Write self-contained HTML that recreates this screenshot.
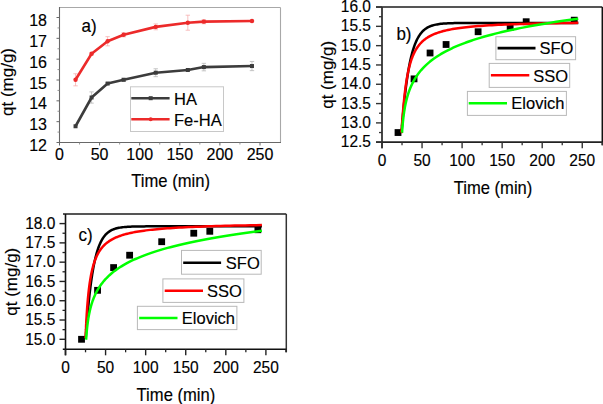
<!DOCTYPE html>
<html><head><meta charset="utf-8"><style>
html,body{margin:0;padding:0;background:#fff;}
body{width:603px;height:404px;overflow:hidden;}
svg{display:block;}
text{font-family:"Liberation Sans",sans-serif;stroke:#000;stroke-width:0.15px;}
</style></head><body>
<svg width="603" height="404" viewBox="0 0 603 404">
<rect x="0" y="0" width="603" height="404" fill="#fff"/>
<line x1="59.50" y1="7.50" x2="280.50" y2="7.50" stroke="#a8a8a8" stroke-width="1.1"/>
<line x1="280.50" y1="7.50" x2="280.50" y2="142.50" stroke="#a8a8a8" stroke-width="1.1"/>
<line x1="59.50" y1="7.00" x2="59.50" y2="143.00" stroke="#686868" stroke-width="1.1"/>
<line x1="59.00" y1="142.50" x2="281.00" y2="142.50" stroke="#686868" stroke-width="1.1"/>
<line x1="56.50" y1="142.50" x2="59.50" y2="142.50" stroke="#686868" stroke-width="1"/>
<line x1="57.50" y1="132.08" x2="59.50" y2="132.08" stroke="#8a8a8a" stroke-width="0.9"/>
<text x="47.00" y="151.00" font-size="16" text-anchor="end" fill="#000" >12</text>
<line x1="56.50" y1="121.67" x2="59.50" y2="121.67" stroke="#686868" stroke-width="1"/>
<line x1="57.50" y1="111.25" x2="59.50" y2="111.25" stroke="#8a8a8a" stroke-width="0.9"/>
<text x="47.00" y="130.17" font-size="16" text-anchor="end" fill="#000" >13</text>
<line x1="56.50" y1="100.83" x2="59.50" y2="100.83" stroke="#686868" stroke-width="1"/>
<line x1="57.50" y1="90.42" x2="59.50" y2="90.42" stroke="#8a8a8a" stroke-width="0.9"/>
<text x="47.00" y="109.33" font-size="16" text-anchor="end" fill="#000" >14</text>
<line x1="56.50" y1="80.00" x2="59.50" y2="80.00" stroke="#686868" stroke-width="1"/>
<line x1="57.50" y1="69.58" x2="59.50" y2="69.58" stroke="#8a8a8a" stroke-width="0.9"/>
<text x="47.00" y="88.50" font-size="16" text-anchor="end" fill="#000" >15</text>
<line x1="56.50" y1="59.17" x2="59.50" y2="59.17" stroke="#686868" stroke-width="1"/>
<line x1="57.50" y1="48.75" x2="59.50" y2="48.75" stroke="#8a8a8a" stroke-width="0.9"/>
<text x="47.00" y="67.67" font-size="16" text-anchor="end" fill="#000" >16</text>
<line x1="56.50" y1="38.34" x2="59.50" y2="38.34" stroke="#686868" stroke-width="1"/>
<line x1="57.50" y1="27.92" x2="59.50" y2="27.92" stroke="#8a8a8a" stroke-width="0.9"/>
<text x="47.00" y="46.84" font-size="16" text-anchor="end" fill="#000" >17</text>
<line x1="56.50" y1="17.50" x2="59.50" y2="17.50" stroke="#686868" stroke-width="1"/>
<text x="47.00" y="26.00" font-size="16" text-anchor="end" fill="#000" >18</text>
<line x1="59.50" y1="142.50" x2="59.50" y2="145.50" stroke="#686868" stroke-width="1"/>
<line x1="79.55" y1="142.50" x2="79.55" y2="144.50" stroke="#8a8a8a" stroke-width="0.9"/>
<text x="59.50" y="160.20" font-size="16" text-anchor="middle" fill="#000" >0</text>
<line x1="99.60" y1="142.50" x2="99.60" y2="145.50" stroke="#686868" stroke-width="1"/>
<line x1="119.65" y1="142.50" x2="119.65" y2="144.50" stroke="#8a8a8a" stroke-width="0.9"/>
<text x="99.60" y="160.20" font-size="16" text-anchor="middle" fill="#000" >50</text>
<line x1="139.70" y1="142.50" x2="139.70" y2="145.50" stroke="#686868" stroke-width="1"/>
<line x1="159.75" y1="142.50" x2="159.75" y2="144.50" stroke="#8a8a8a" stroke-width="0.9"/>
<text x="139.70" y="160.20" font-size="16" text-anchor="middle" fill="#000" >100</text>
<line x1="179.80" y1="142.50" x2="179.80" y2="145.50" stroke="#686868" stroke-width="1"/>
<line x1="199.85" y1="142.50" x2="199.85" y2="144.50" stroke="#8a8a8a" stroke-width="0.9"/>
<text x="179.80" y="160.20" font-size="16" text-anchor="middle" fill="#000" >150</text>
<line x1="219.90" y1="142.50" x2="219.90" y2="145.50" stroke="#686868" stroke-width="1"/>
<line x1="239.95" y1="142.50" x2="239.95" y2="144.50" stroke="#8a8a8a" stroke-width="0.9"/>
<text x="219.90" y="160.20" font-size="16" text-anchor="middle" fill="#000" >200</text>
<line x1="260.00" y1="142.50" x2="260.00" y2="145.50" stroke="#686868" stroke-width="1"/>
<text x="260.00" y="160.20" font-size="16" text-anchor="middle" fill="#000" >250</text>
<line x1="91.58" y1="91.88" x2="91.58" y2="103.13" stroke="#b8b8b8" stroke-width="0.8"/>
<line x1="89.38" y1="91.88" x2="93.78" y2="91.88" stroke="#b8b8b8" stroke-width="0.8"/>
<line x1="89.38" y1="103.13" x2="93.78" y2="103.13" stroke="#b8b8b8" stroke-width="0.8"/>
<line x1="107.62" y1="82.50" x2="107.62" y2="84.58" stroke="#b8b8b8" stroke-width="0.8"/>
<line x1="105.42" y1="82.50" x2="109.82" y2="82.50" stroke="#b8b8b8" stroke-width="0.8"/>
<line x1="105.42" y1="84.58" x2="109.82" y2="84.58" stroke="#b8b8b8" stroke-width="0.8"/>
<line x1="123.66" y1="78.33" x2="123.66" y2="81.25" stroke="#b8b8b8" stroke-width="0.8"/>
<line x1="121.46" y1="78.33" x2="125.86" y2="78.33" stroke="#b8b8b8" stroke-width="0.8"/>
<line x1="121.46" y1="81.25" x2="125.86" y2="81.25" stroke="#b8b8b8" stroke-width="0.8"/>
<line x1="155.74" y1="68.75" x2="155.74" y2="76.67" stroke="#b8b8b8" stroke-width="0.8"/>
<line x1="153.54" y1="68.75" x2="157.94" y2="68.75" stroke="#b8b8b8" stroke-width="0.8"/>
<line x1="153.54" y1="76.67" x2="157.94" y2="76.67" stroke="#b8b8b8" stroke-width="0.8"/>
<line x1="187.82" y1="68.96" x2="187.82" y2="71.04" stroke="#b8b8b8" stroke-width="0.8"/>
<line x1="185.62" y1="68.96" x2="190.02" y2="68.96" stroke="#b8b8b8" stroke-width="0.8"/>
<line x1="185.62" y1="71.04" x2="190.02" y2="71.04" stroke="#b8b8b8" stroke-width="0.8"/>
<line x1="203.86" y1="63.33" x2="203.86" y2="70.83" stroke="#b8b8b8" stroke-width="0.8"/>
<line x1="201.66" y1="63.33" x2="206.06" y2="63.33" stroke="#b8b8b8" stroke-width="0.8"/>
<line x1="201.66" y1="70.83" x2="206.06" y2="70.83" stroke="#b8b8b8" stroke-width="0.8"/>
<line x1="251.98" y1="61.46" x2="251.98" y2="70.63" stroke="#b8b8b8" stroke-width="0.8"/>
<line x1="249.78" y1="61.46" x2="254.18" y2="61.46" stroke="#b8b8b8" stroke-width="0.8"/>
<line x1="249.78" y1="70.63" x2="254.18" y2="70.63" stroke="#b8b8b8" stroke-width="0.8"/>
<line x1="75.54" y1="73.75" x2="75.54" y2="85.83" stroke="#f6b0b0" stroke-width="0.8"/>
<line x1="73.34" y1="73.75" x2="77.74" y2="73.75" stroke="#f6b0b0" stroke-width="0.8"/>
<line x1="73.34" y1="85.83" x2="77.74" y2="85.83" stroke="#f6b0b0" stroke-width="0.8"/>
<line x1="91.58" y1="52.71" x2="91.58" y2="54.79" stroke="#f6b0b0" stroke-width="0.8"/>
<line x1="89.38" y1="52.71" x2="93.78" y2="52.71" stroke="#f6b0b0" stroke-width="0.8"/>
<line x1="89.38" y1="54.79" x2="93.78" y2="54.79" stroke="#f6b0b0" stroke-width="0.8"/>
<line x1="107.62" y1="36.67" x2="107.62" y2="45.83" stroke="#f6b0b0" stroke-width="0.8"/>
<line x1="105.42" y1="36.67" x2="109.82" y2="36.67" stroke="#f6b0b0" stroke-width="0.8"/>
<line x1="105.42" y1="45.83" x2="109.82" y2="45.83" stroke="#f6b0b0" stroke-width="0.8"/>
<line x1="123.66" y1="32.71" x2="123.66" y2="36.88" stroke="#f6b0b0" stroke-width="0.8"/>
<line x1="121.46" y1="32.71" x2="125.86" y2="32.71" stroke="#f6b0b0" stroke-width="0.8"/>
<line x1="121.46" y1="36.88" x2="125.86" y2="36.88" stroke="#f6b0b0" stroke-width="0.8"/>
<line x1="155.74" y1="23.96" x2="155.74" y2="29.79" stroke="#f6b0b0" stroke-width="0.8"/>
<line x1="153.54" y1="23.96" x2="157.94" y2="23.96" stroke="#f6b0b0" stroke-width="0.8"/>
<line x1="153.54" y1="29.79" x2="157.94" y2="29.79" stroke="#f6b0b0" stroke-width="0.8"/>
<line x1="187.82" y1="15.21" x2="187.82" y2="30.21" stroke="#f6b0b0" stroke-width="0.8"/>
<line x1="185.62" y1="15.21" x2="190.02" y2="15.21" stroke="#f6b0b0" stroke-width="0.8"/>
<line x1="185.62" y1="30.21" x2="190.02" y2="30.21" stroke="#f6b0b0" stroke-width="0.8"/>
<line x1="203.86" y1="19.59" x2="203.86" y2="23.75" stroke="#f6b0b0" stroke-width="0.8"/>
<line x1="201.66" y1="19.59" x2="206.06" y2="19.59" stroke="#f6b0b0" stroke-width="0.8"/>
<line x1="201.66" y1="23.75" x2="206.06" y2="23.75" stroke="#f6b0b0" stroke-width="0.8"/>
<line x1="251.98" y1="20.42" x2="251.98" y2="21.67" stroke="#f6b0b0" stroke-width="0.8"/>
<line x1="249.78" y1="20.42" x2="254.18" y2="20.42" stroke="#f6b0b0" stroke-width="0.8"/>
<line x1="249.78" y1="21.67" x2="254.18" y2="21.67" stroke="#f6b0b0" stroke-width="0.8"/>
<polyline points="75.54,126.25 91.58,97.50 107.62,83.54 123.66,79.79 155.74,72.71 187.82,70.00 203.86,67.08 251.98,66.04" fill="none" stroke="#3c3c3c" stroke-width="2.6" stroke-linejoin="round" stroke-linecap="butt" />
<polyline points="75.54,79.79 91.58,53.75 107.62,41.25 123.66,34.79 155.74,26.88 187.82,22.71 203.86,21.67 251.98,21.04" fill="none" stroke="#ec2a2a" stroke-width="2.6" stroke-linejoin="round" stroke-linecap="butt" />
<rect x="73.54" y="124.25" width="4.00" height="4.00" fill="#3c3c3c" stroke="none" stroke-width="1"/>
<rect x="89.58" y="95.50" width="4.00" height="4.00" fill="#3c3c3c" stroke="none" stroke-width="1"/>
<rect x="105.62" y="81.54" width="4.00" height="4.00" fill="#3c3c3c" stroke="none" stroke-width="1"/>
<rect x="121.66" y="77.79" width="4.00" height="4.00" fill="#3c3c3c" stroke="none" stroke-width="1"/>
<rect x="153.74" y="70.71" width="4.00" height="4.00" fill="#3c3c3c" stroke="none" stroke-width="1"/>
<rect x="185.82" y="68.00" width="4.00" height="4.00" fill="#3c3c3c" stroke="none" stroke-width="1"/>
<rect x="201.86" y="65.08" width="4.00" height="4.00" fill="#3c3c3c" stroke="none" stroke-width="1"/>
<rect x="249.98" y="64.04" width="4.00" height="4.00" fill="#3c3c3c" stroke="none" stroke-width="1"/>
<circle cx="75.54" cy="79.79" r="2.2" fill="#ec2a2a"/>
<circle cx="91.58" cy="53.75" r="2.2" fill="#ec2a2a"/>
<circle cx="107.62" cy="41.25" r="2.2" fill="#ec2a2a"/>
<circle cx="123.66" cy="34.79" r="2.2" fill="#ec2a2a"/>
<circle cx="155.74" cy="26.88" r="2.2" fill="#ec2a2a"/>
<circle cx="187.82" cy="22.71" r="2.2" fill="#ec2a2a"/>
<circle cx="203.86" cy="21.67" r="2.2" fill="#ec2a2a"/>
<circle cx="251.98" cy="21.04" r="2.2" fill="#ec2a2a"/>
<rect x="130.50" y="86.80" width="93.00" height="44.70" fill="#fff" stroke="#c8c8c8" stroke-width="1"/>
<line x1="131.30" y1="98.20" x2="169.60" y2="98.20" stroke="#3c3c3c" stroke-width="2.6"/>
<rect x="148.70" y="96.20" width="4.00" height="4.00" fill="#3c3c3c" stroke="none" stroke-width="1"/>
<line x1="131.30" y1="119.20" x2="169.60" y2="119.20" stroke="#ec2a2a" stroke-width="2.6"/>
<circle cx="150.7" cy="119.2" r="2" fill="#ec2a2a"/>
<text x="174.00" y="104.60" font-size="16.5" text-anchor="start" fill="#000" >HA</text>
<text x="174.00" y="125.80" font-size="16.5" text-anchor="start" fill="#000" >Fe-HA</text>
<text transform="translate(81.50,32.30) scale(1,1.04)" x="0" y="0" font-size="17" text-anchor="start" fill="#000" >a)</text>
<text x="12.50" y="82.00" font-size="17" text-anchor="middle" fill="#000" transform="rotate(-90 12.5 82.0)">qt (mg/g)</text>
<text transform="translate(131.30,186.80) scale(1,1.05)" x="0" y="0" font-size="16.6" text-anchor="start" fill="#000" >Time (min)</text>
<line x1="376.00" y1="7.00" x2="602.30" y2="7.00" stroke="#555" stroke-width="1.8"/>
<line x1="602.30" y1="7.00" x2="602.30" y2="145.20" stroke="#111" stroke-width="1.5"/>
<line x1="382.00" y1="7.00" x2="382.00" y2="148.20" stroke="#333" stroke-width="1.8"/>
<line x1="376.00" y1="142.20" x2="602.30" y2="142.20" stroke="#222" stroke-width="1.8"/>
<line x1="376.00" y1="142.20" x2="382.00" y2="142.20" stroke="#333" stroke-width="1.4"/>
<line x1="379.00" y1="132.54" x2="382.00" y2="132.54" stroke="#333" stroke-width="1.3"/>
<text transform="translate(371.00,147.20) scale(1,1.1)" x="0" y="0" font-size="15.5" text-anchor="end" fill="#000" >12.5</text>
<line x1="376.00" y1="122.89" x2="382.00" y2="122.89" stroke="#333" stroke-width="1.4"/>
<line x1="379.00" y1="113.23" x2="382.00" y2="113.23" stroke="#333" stroke-width="1.3"/>
<text transform="translate(371.00,127.89) scale(1,1.1)" x="0" y="0" font-size="15.5" text-anchor="end" fill="#000" >13.0</text>
<line x1="376.00" y1="103.58" x2="382.00" y2="103.58" stroke="#333" stroke-width="1.4"/>
<line x1="379.00" y1="93.92" x2="382.00" y2="93.92" stroke="#333" stroke-width="1.3"/>
<text transform="translate(371.00,108.58) scale(1,1.1)" x="0" y="0" font-size="15.5" text-anchor="end" fill="#000" >13.5</text>
<line x1="376.00" y1="84.27" x2="382.00" y2="84.27" stroke="#333" stroke-width="1.4"/>
<line x1="379.00" y1="74.61" x2="382.00" y2="74.61" stroke="#333" stroke-width="1.3"/>
<text transform="translate(371.00,89.27) scale(1,1.1)" x="0" y="0" font-size="15.5" text-anchor="end" fill="#000" >14.0</text>
<line x1="376.00" y1="64.96" x2="382.00" y2="64.96" stroke="#333" stroke-width="1.4"/>
<line x1="379.00" y1="55.30" x2="382.00" y2="55.30" stroke="#333" stroke-width="1.3"/>
<text transform="translate(371.00,69.96) scale(1,1.1)" x="0" y="0" font-size="15.5" text-anchor="end" fill="#000" >14.5</text>
<line x1="376.00" y1="45.65" x2="382.00" y2="45.65" stroke="#333" stroke-width="1.4"/>
<line x1="379.00" y1="35.99" x2="382.00" y2="35.99" stroke="#333" stroke-width="1.3"/>
<text transform="translate(371.00,50.65) scale(1,1.1)" x="0" y="0" font-size="15.5" text-anchor="end" fill="#000" >15.0</text>
<line x1="376.00" y1="26.34" x2="382.00" y2="26.34" stroke="#333" stroke-width="1.4"/>
<line x1="379.00" y1="16.69" x2="382.00" y2="16.69" stroke="#333" stroke-width="1.3"/>
<text transform="translate(371.00,31.34) scale(1,1.1)" x="0" y="0" font-size="15.5" text-anchor="end" fill="#000" >15.5</text>
<line x1="376.00" y1="7.03" x2="382.00" y2="7.03" stroke="#333" stroke-width="1.4"/>
<text transform="translate(371.00,12.03) scale(1,1.1)" x="0" y="0" font-size="15.5" text-anchor="end" fill="#000" >16.0</text>
<line x1="382.00" y1="142.20" x2="382.00" y2="148.20" stroke="#333" stroke-width="1.4"/>
<line x1="402.02" y1="142.20" x2="402.02" y2="145.20" stroke="#333" stroke-width="1.3"/>
<text transform="translate(382.00,166.00) scale(1,1.1)" x="0" y="0" font-size="15.5" text-anchor="middle" fill="#000" >0</text>
<line x1="422.05" y1="142.20" x2="422.05" y2="148.20" stroke="#333" stroke-width="1.4"/>
<line x1="442.07" y1="142.20" x2="442.07" y2="145.20" stroke="#333" stroke-width="1.3"/>
<text transform="translate(422.05,166.00) scale(1,1.1)" x="0" y="0" font-size="15.5" text-anchor="middle" fill="#000" >50</text>
<line x1="462.10" y1="142.20" x2="462.10" y2="148.20" stroke="#333" stroke-width="1.4"/>
<line x1="482.12" y1="142.20" x2="482.12" y2="145.20" stroke="#333" stroke-width="1.3"/>
<text transform="translate(462.10,166.00) scale(1,1.1)" x="0" y="0" font-size="15.5" text-anchor="middle" fill="#000" >100</text>
<line x1="502.15" y1="142.20" x2="502.15" y2="148.20" stroke="#333" stroke-width="1.4"/>
<line x1="522.17" y1="142.20" x2="522.17" y2="145.20" stroke="#333" stroke-width="1.3"/>
<text transform="translate(502.15,166.00) scale(1,1.1)" x="0" y="0" font-size="15.5" text-anchor="middle" fill="#000" >150</text>
<line x1="542.20" y1="142.20" x2="542.20" y2="148.20" stroke="#333" stroke-width="1.4"/>
<line x1="562.23" y1="142.20" x2="562.23" y2="145.20" stroke="#333" stroke-width="1.3"/>
<text transform="translate(542.20,166.00) scale(1,1.1)" x="0" y="0" font-size="15.5" text-anchor="middle" fill="#000" >200</text>
<line x1="582.25" y1="142.20" x2="582.25" y2="148.20" stroke="#333" stroke-width="1.4"/>
<line x1="602.27" y1="142.20" x2="602.27" y2="145.20" stroke="#333" stroke-width="1.3"/>
<text transform="translate(582.25,166.00) scale(1,1.1)" x="0" y="0" font-size="15.5" text-anchor="middle" fill="#000" >250</text>
<rect x="394.62" y="129.14" width="6.80" height="6.80" fill="#000" stroke="none" stroke-width="1"/>
<rect x="410.64" y="75.46" width="6.80" height="6.80" fill="#000" stroke="none" stroke-width="1"/>
<rect x="426.66" y="49.59" width="6.80" height="6.80" fill="#000" stroke="none" stroke-width="1"/>
<rect x="442.68" y="41.09" width="6.80" height="6.80" fill="#000" stroke="none" stroke-width="1"/>
<rect x="474.72" y="28.35" width="6.80" height="6.80" fill="#000" stroke="none" stroke-width="1"/>
<rect x="506.76" y="24.10" width="6.80" height="6.80" fill="#000" stroke="none" stroke-width="1"/>
<rect x="522.78" y="18.31" width="6.80" height="6.80" fill="#000" stroke="none" stroke-width="1"/>
<rect x="570.84" y="16.76" width="6.80" height="6.80" fill="#000" stroke="none" stroke-width="1"/>
<polyline points="401.53,132.27 401.54,132.17 401.54,132.16 401.54,132.16 401.54,132.15 401.54,132.15 401.54,132.15 401.54,132.14 401.54,132.14 401.55,132.13 401.55,132.13 401.55,132.12 401.55,132.12 401.55,132.11 401.55,132.11 401.55,132.10 401.55,132.10 401.55,132.09 401.55,132.08 401.55,132.08 401.55,132.07 401.55,132.06 401.55,132.06 401.55,132.05 401.55,132.04 401.55,132.03 401.55,132.03 401.55,132.02 401.55,132.01 401.56,132.00 401.56,131.99 401.56,131.98 401.56,131.97 401.56,131.96 401.56,131.95 401.56,131.94 401.56,131.93 401.56,131.92 401.56,131.91 401.56,131.89 401.56,131.88 401.57,131.87 401.57,131.85 401.57,131.84 401.57,131.82 401.57,131.81 401.57,131.79 401.57,131.78 401.57,131.76 401.57,131.74 401.58,131.72 401.58,131.71 401.58,131.69 401.58,131.67 401.58,131.65 401.58,131.63 401.59,131.60 401.59,131.58 401.59,131.56 401.59,131.53 401.59,131.51 401.59,131.48 401.60,131.46 401.60,131.43 401.60,131.40 401.60,131.37 401.61,131.34 401.61,131.31 401.61,131.28 401.61,131.24 401.62,131.21 401.62,131.17 401.62,131.13 401.62,131.09 401.63,131.05 401.63,131.01 401.63,130.97 401.64,130.93 401.64,130.88 401.64,130.83 401.65,130.79 401.65,130.74 401.66,130.68 401.66,130.63 401.66,130.58 401.67,130.52 401.67,130.46 401.68,130.40 401.68,130.33 401.69,130.27 401.69,130.20 401.70,130.13 401.70,130.06 401.71,129.99 401.71,129.91 401.72,129.83 401.73,129.75 401.73,129.66 401.74,129.57 401.75,129.48 401.75,129.39 401.76,129.29 401.77,129.19 401.78,129.09 401.79,128.98 401.79,128.87 401.80,128.76 401.81,128.64 401.82,128.52 401.83,128.40 401.84,128.27 401.85,128.13 401.86,128.00 401.87,127.85 401.89,127.71 401.90,127.55 401.91,127.40 401.92,127.23 401.94,127.07 401.95,126.89 401.96,126.72 401.98,126.53 401.99,126.34 402.01,126.15 402.03,125.94 402.04,125.74 402.06,125.52 402.08,125.30 402.10,125.07 402.11,124.83 402.13,124.59 402.15,124.34 402.18,124.08 402.20,123.81 402.22,123.53 402.24,123.25 402.27,122.96 402.29,122.65 402.32,122.34 402.34,122.02 402.37,121.69 402.40,121.35 402.43,121.00 402.46,120.63 402.49,120.26 402.52,119.88 402.56,119.48 402.59,119.07 402.63,118.65 402.67,118.22 402.70,117.77 402.74,117.32 402.79,116.85 402.83,116.36 402.87,115.86 402.92,115.35 402.96,114.82 403.01,114.28 403.06,113.72 403.12,113.15 403.17,112.56 403.23,111.96 403.28,111.34 403.34,110.70 403.40,110.05 403.47,109.38 403.53,108.69 403.60,107.99 403.67,107.26 403.74,106.52 403.82,105.76 403.90,104.98 403.98,104.18 404.06,103.37 404.15,102.53 404.23,101.68 404.33,100.80 404.42,99.91 404.52,99.00 404.62,98.06 404.73,97.11 404.83,96.14 404.95,95.14 405.06,94.13 405.18,93.10 405.31,92.05 405.44,90.98 405.57,89.89 405.71,88.78 405.85,87.66 405.99,86.51 406.15,85.35 406.30,84.17 406.46,82.98 406.63,81.77 406.81,80.54 406.99,79.30 407.17,78.04 407.36,76.77 407.56,75.49 407.77,74.19 407.98,72.89 408.20,71.58 408.42,70.26 408.66,68.93 408.90,67.59 409.15,66.25 409.41,64.91 409.68,63.56 409.95,62.22 410.24,60.87 410.54,59.53 410.84,58.19 411.16,56.86 411.49,55.54 411.83,54.22 412.18,52.92 412.54,51.63 412.91,50.35 413.30,49.09 413.70,47.85 414.11,46.63 414.54,45.43 414.98,44.25 415.44,43.10 415.91,41.97 416.40,40.87 416.91,39.80 417.43,38.76 417.97,37.75 418.53,36.78 419.11,35.84 419.71,34.93 420.33,34.07 420.96,33.23 421.63,32.44 422.31,31.68 423.02,30.96 423.75,30.28 424.50,29.63 425.28,29.03 426.09,28.46 426.93,27.92 427.79,27.42 428.68,26.96 429.61,26.53 430.56,26.14 431.55,25.78 432.57,25.44 433.63,25.14 434.72,24.87 435.85,24.62 437.01,24.40 438.22,24.20 439.47,24.02 440.76,23.86 442.09,23.72 443.47,23.60 444.90,23.49 446.37,23.40 447.90,23.32 449.48,23.25 451.11,23.20 452.79,23.15 454.54,23.11 456.34,23.07 458.20,23.04 460.13,23.02 462.12,23.00 464.18,22.99 466.32,22.97 468.52,22.96 470.80,22.96 473.15,22.95 475.59,22.94 478.11,22.94 480.71,22.94 483.41,22.94 486.19,22.94 489.07,22.93 492.05,22.93 495.13,22.93 498.31,22.93 501.60,22.93 505.01,22.93 508.53,22.93 512.17,22.93 515.93,22.93 519.82,22.93 523.84,22.93 528.01,22.93 532.31,22.93 536.76,22.93 541.36,22.93 546.11,22.93 551.03,22.93 556.11,22.93 561.37,22.93 566.81,22.93 572.43,22.93 578.25,22.93" fill="none" stroke="#000" stroke-width="2.5" stroke-linejoin="round" stroke-linecap="butt" />
<polyline points="401.37,132.35 401.38,132.29 401.38,132.29 401.38,132.29 401.38,132.29 401.38,132.28 401.38,132.28 401.38,132.28 401.38,132.28 401.38,132.27 401.38,132.27 401.38,132.27 401.38,132.26 401.38,132.26 401.38,132.26 401.38,132.25 401.38,132.25 401.38,132.25 401.38,132.24 401.38,132.24 401.39,132.23 401.39,132.23 401.39,132.22 401.39,132.22 401.39,132.21 401.39,132.21 401.39,132.20 401.39,132.20 401.39,132.19 401.39,132.19 401.39,132.18 401.39,132.17 401.39,132.17 401.39,132.16 401.39,132.15 401.39,132.14 401.40,132.14 401.40,132.13 401.40,132.12 401.40,132.11 401.40,132.10 401.40,132.09 401.40,132.08 401.40,132.07 401.40,132.06 401.40,132.05 401.41,132.04 401.41,132.03 401.41,132.01 401.41,132.00 401.41,131.99 401.41,131.97 401.41,131.96 401.42,131.94 401.42,131.93 401.42,131.91 401.42,131.89 401.42,131.87 401.42,131.86 401.43,131.84 401.43,131.82 401.43,131.80 401.43,131.77 401.43,131.75 401.44,131.73 401.44,131.70 401.44,131.68 401.44,131.65 401.45,131.63 401.45,131.60 401.45,131.57 401.45,131.54 401.46,131.51 401.46,131.47 401.46,131.44 401.47,131.40 401.47,131.37 401.47,131.33 401.48,131.29 401.48,131.25 401.48,131.20 401.49,131.16 401.49,131.11 401.49,131.06 401.50,131.02 401.50,130.96 401.51,130.91 401.51,130.85 401.52,130.80 401.52,130.73 401.53,130.67 401.53,130.61 401.54,130.54 401.54,130.47 401.55,130.40 401.56,130.32 401.56,130.24 401.57,130.16 401.58,130.08 401.58,129.99 401.59,129.90 401.60,129.80 401.60,129.71 401.61,129.60 401.62,129.50 401.63,129.39 401.64,129.28 401.65,129.16 401.66,129.04 401.67,128.91 401.68,128.78 401.69,128.64 401.70,128.50 401.71,128.36 401.72,128.20 401.73,128.05 401.75,127.88 401.76,127.72 401.77,127.54 401.78,127.36 401.80,127.17 401.81,126.98 401.83,126.78 401.84,126.57 401.86,126.35 401.88,126.13 401.89,125.90 401.91,125.66 401.93,125.41 401.95,125.16 401.97,124.89 401.99,124.62 402.01,124.33 402.03,124.04 402.06,123.74 402.08,123.43 402.10,123.10 402.13,122.77 402.15,122.43 402.18,122.07 402.21,121.70 402.24,121.33 402.27,120.94 402.30,120.53 402.33,120.12 402.36,119.69 402.39,119.25 402.43,118.80 402.46,118.33 402.50,117.85 402.54,117.35 402.58,116.84 402.62,116.32 402.66,115.78 402.71,115.23 402.75,114.66 402.80,114.08 402.85,113.48 402.90,112.86 402.95,112.23 403.01,111.59 403.06,110.93 403.12,110.25 403.18,109.55 403.24,108.84 403.30,108.12 403.37,107.38 403.44,106.62 403.51,105.84 403.58,105.05 403.66,104.25 403.73,103.43 403.81,102.59 403.90,101.74 403.98,100.87 404.07,99.99 404.16,99.09 404.26,98.18 404.36,97.26 404.46,96.32 404.56,95.37 404.67,94.41 404.78,93.43 404.90,92.45 405.02,91.45 405.14,90.44 405.27,89.42 405.41,88.40 405.54,87.36 405.69,86.32 405.83,85.27 405.98,84.21 406.14,83.15 406.30,82.08 406.47,81.01 406.64,79.94 406.82,78.86 407.01,77.78 407.20,76.70 407.40,75.62 407.60,74.54 407.82,73.47 408.04,72.39 408.26,71.32 408.50,70.25 408.74,69.18 408.99,68.13 409.25,67.07 409.52,66.03 409.79,64.99 410.08,63.96 410.38,62.94 410.68,61.93 411.00,60.93 411.33,59.94 411.67,58.96 412.02,57.99 412.38,57.03 412.75,56.09 413.14,55.16 413.54,54.25 413.96,53.35 414.38,52.46 414.83,51.59 415.29,50.73 415.76,49.89 416.25,49.06 416.75,48.25 417.28,47.45 417.82,46.68 418.38,45.91 418.96,45.16 419.56,44.43 420.17,43.72 420.81,43.02 421.48,42.33 422.16,41.67 422.87,41.01 423.60,40.38 424.35,39.76 425.14,39.15 425.94,38.57 426.78,37.99 427.64,37.43 428.54,36.89 429.46,36.36 430.42,35.85 431.41,35.35 432.43,34.86 433.49,34.39 434.58,33.93 435.71,33.48 436.88,33.05 438.08,32.63 439.33,32.23 440.62,31.83 441.96,31.45 443.34,31.08 444.77,30.72 446.24,30.37 447.77,30.03 449.35,29.71 450.98,29.39 452.67,29.08 454.41,28.79 456.22,28.50 458.08,28.23 460.01,27.96 462.01,27.70 464.07,27.45 466.21,27.21 468.41,26.97 470.69,26.75 473.05,26.53 475.49,26.32 478.01,26.11 480.62,25.92 483.31,25.73 486.10,25.54 488.98,25.37 491.96,25.20 495.05,25.03 498.23,24.87 501.53,24.72 504.93,24.57 508.46,24.43 512.10,24.29 515.87,24.16 519.76,24.03 523.79,23.90 527.95,23.78 532.26,23.67 536.71,23.56 541.32,23.45 546.08,23.35 551.00,23.25 556.09,23.15 561.36,23.06 566.80,22.97 572.43,22.89 578.25,22.81" fill="none" stroke="#ff0000" stroke-width="2.5" stroke-linejoin="round" stroke-linecap="butt" />
<polyline points="402.05,132.71 402.06,132.58 402.06,132.58 402.06,132.57 402.06,132.57 402.06,132.56 402.06,132.56 402.06,132.55 402.06,132.55 402.06,132.54 402.06,132.54 402.06,132.53 402.06,132.53 402.06,132.52 402.06,132.51 402.06,132.51 402.06,132.50 402.06,132.49 402.06,132.49 402.06,132.48 402.06,132.47 402.07,132.46 402.07,132.45 402.07,132.44 402.07,132.44 402.07,132.43 402.07,132.42 402.07,132.41 402.07,132.40 402.07,132.39 402.07,132.38 402.07,132.36 402.07,132.35 402.07,132.34 402.07,132.33 402.07,132.32 402.08,132.30 402.08,132.29 402.08,132.27 402.08,132.26 402.08,132.24 402.08,132.23 402.08,132.21 402.08,132.20 402.08,132.18 402.08,132.16 402.09,132.14 402.09,132.12 402.09,132.10 402.09,132.08 402.09,132.06 402.09,132.04 402.09,132.02 402.10,132.00 402.10,131.97 402.10,131.95 402.10,131.92 402.10,131.90 402.10,131.87 402.11,131.84 402.11,131.81 402.11,131.78 402.11,131.75 402.11,131.72 402.12,131.69 402.12,131.65 402.12,131.62 402.12,131.58 402.13,131.54 402.13,131.50 402.13,131.46 402.13,131.42 402.14,131.38 402.14,131.34 402.14,131.29 402.15,131.24 402.15,131.20 402.15,131.15 402.16,131.09 402.16,131.04 402.16,130.99 402.17,130.93 402.17,130.87 402.17,130.81 402.18,130.75 402.18,130.69 402.19,130.62 402.19,130.55 402.20,130.48 402.20,130.41 402.21,130.34 402.21,130.26 402.22,130.18 402.22,130.10 402.23,130.01 402.24,129.93 402.24,129.84 402.25,129.75 402.26,129.65 402.26,129.56 402.27,129.46 402.28,129.35 402.28,129.25 402.29,129.14 402.30,129.02 402.31,128.91 402.32,128.79 402.33,128.67 402.34,128.54 402.35,128.41 402.36,128.28 402.37,128.14 402.38,128.00 402.39,127.85 402.40,127.70 402.41,127.55 402.42,127.39 402.44,127.23 402.45,127.07 402.46,126.90 402.48,126.72 402.49,126.54 402.51,126.36 402.52,126.17 402.54,125.98 402.56,125.78 402.57,125.57 402.59,125.36 402.61,125.15 402.63,124.93 402.65,124.71 402.67,124.48 402.69,124.24 402.71,124.00 402.73,123.75 402.76,123.50 402.78,123.24 402.81,122.98 402.83,122.71 402.86,122.43 402.89,122.15 402.91,121.86 402.94,121.56 402.97,121.26 403.01,120.96 403.04,120.64 403.07,120.32 403.11,120.00 403.14,119.66 403.18,119.32 403.22,118.98 403.26,118.63 403.30,118.27 403.34,117.90 403.39,117.53 403.43,117.15 403.48,116.76 403.53,116.37 403.58,115.97 403.63,115.57 403.68,115.15 403.74,114.73 403.79,114.31 403.85,113.88 403.92,113.44 403.98,112.99 404.04,112.54 404.11,112.08 404.18,111.61 404.26,111.14 404.33,110.66 404.41,110.18 404.49,109.69 404.57,109.19 404.66,108.69 404.75,108.18 404.84,107.66 404.93,107.14 405.03,106.61 405.13,106.08 405.24,105.54 405.34,104.99 405.46,104.44 405.57,103.88 405.69,103.32 405.82,102.75 405.94,102.18 406.08,101.60 406.21,101.01 406.35,100.42 406.50,99.83 406.65,99.23 406.81,98.62 406.97,98.01 407.14,97.40 407.31,96.78 407.49,96.16 407.67,95.53 407.87,94.90 408.06,94.26 408.27,93.62 408.48,92.97 408.70,92.32 408.92,91.67 409.16,91.01 409.40,90.35 409.65,89.68 409.91,89.01 410.18,88.34 410.45,87.66 410.74,86.98 411.03,86.30 411.34,85.62 411.65,84.93 411.98,84.23 412.32,83.54 412.67,82.84 413.03,82.14 413.40,81.43 413.79,80.73 414.19,80.02 414.60,79.30 415.03,78.59 415.47,77.87 415.93,77.15 416.40,76.43 416.89,75.70 417.39,74.98 417.91,74.25 418.45,73.52 419.01,72.78 419.59,72.05 420.18,71.31 420.80,70.57 421.44,69.83 422.09,69.09 422.78,68.34 423.48,67.60 424.21,66.85 424.96,66.10 425.74,65.35 426.55,64.60 427.38,63.84 428.24,63.09 429.13,62.33 430.05,61.57 431.01,60.81 431.99,60.05 433.01,59.29 434.06,58.53 435.15,57.76 436.28,57.00 437.44,56.23 438.64,55.47 439.89,54.70 441.18,53.93 442.51,53.16 443.88,52.39 445.30,51.61 446.78,50.84 448.30,50.07 449.87,49.29 451.49,48.52 453.18,47.74 454.91,46.96 456.71,46.19 458.57,45.41 460.49,44.63 462.48,43.85 464.54,43.07 466.66,42.29 468.86,41.51 471.13,40.73 473.48,39.94 475.91,39.16 478.42,38.38 481.02,37.59 483.70,36.81 486.48,36.02 489.35,35.24 492.32,34.45 495.39,33.66 498.56,32.88 501.84,32.09 505.24,31.30 508.75,30.51 512.37,29.72 516.13,28.94 520.01,28.15 524.02,27.36 528.16,26.57 532.45,25.78 536.89,24.99 541.47,24.20 546.21,23.40 551.12,22.61 556.19,21.82 561.43,21.03 566.85,20.24 572.45,19.45 578.25,18.65" fill="none" stroke="#00ff00" stroke-width="2.5" stroke-linejoin="round" stroke-linecap="butt" />
<text transform="translate(396.40,39.80) scale(1,1.05)" x="0" y="0" font-size="17" text-anchor="start" fill="#000" >b)</text>
<rect x="495.90" y="36.70" width="79.70" height="23.00" fill="#fff" stroke="#b8b8b8" stroke-width="1"/>
<line x1="497.60" y1="48.10" x2="535.50" y2="48.10" stroke="#000" stroke-width="2.6"/>
<text x="539.50" y="54.00" font-size="16.5" text-anchor="start" fill="#000" >SFO</text>
<rect x="489.20" y="63.40" width="80.50" height="24.00" fill="#fff" stroke="#b8b8b8" stroke-width="1"/>
<line x1="490.90" y1="75.30" x2="529.30" y2="75.30" stroke="#ff0000" stroke-width="2.6"/>
<text x="533.30" y="81.50" font-size="16.5" text-anchor="start" fill="#000" >SSO</text>
<rect x="467.40" y="91.40" width="99.00" height="24.00" fill="#fff" stroke="#b8b8b8" stroke-width="1"/>
<line x1="468.70" y1="103.30" x2="507.00" y2="103.30" stroke="#00ff00" stroke-width="2.6"/>
<text x="511.30" y="109.20" font-size="16.5" text-anchor="start" fill="#000" >Elovich</text>
<text x="333.50" y="74.80" font-size="17" text-anchor="middle" fill="#000" transform="rotate(-90 333.5 74.8)">qt (mg/g)</text>
<text transform="translate(453.70,193.60) scale(1,1.05)" x="0" y="0" font-size="16.6" text-anchor="start" fill="#000" >Time (min)</text>
<line x1="63.00" y1="214.00" x2="286.30" y2="214.00" stroke="#555" stroke-width="1.8"/>
<line x1="286.30" y1="214.00" x2="286.30" y2="352.30" stroke="#333" stroke-width="1.5"/>
<line x1="65.50" y1="214.00" x2="65.50" y2="355.30" stroke="#111" stroke-width="1.6"/>
<line x1="62.80" y1="349.30" x2="286.30" y2="349.30" stroke="#111" stroke-width="1.6"/>
<line x1="59.50" y1="339.30" x2="65.50" y2="339.30" stroke="#222" stroke-width="1.4"/>
<line x1="62.50" y1="329.66" x2="65.50" y2="329.66" stroke="#222" stroke-width="1.3"/>
<text transform="translate(55.30,344.50) scale(1,1.1)" x="0" y="0" font-size="15.5" text-anchor="end" fill="#000" >15.0</text>
<line x1="59.50" y1="320.01" x2="65.50" y2="320.01" stroke="#222" stroke-width="1.4"/>
<line x1="62.50" y1="310.37" x2="65.50" y2="310.37" stroke="#222" stroke-width="1.3"/>
<text transform="translate(55.30,325.21) scale(1,1.1)" x="0" y="0" font-size="15.5" text-anchor="end" fill="#000" >15.5</text>
<line x1="59.50" y1="300.73" x2="65.50" y2="300.73" stroke="#222" stroke-width="1.4"/>
<line x1="62.50" y1="291.09" x2="65.50" y2="291.09" stroke="#222" stroke-width="1.3"/>
<text transform="translate(55.30,305.93) scale(1,1.1)" x="0" y="0" font-size="15.5" text-anchor="end" fill="#000" >16.0</text>
<line x1="59.50" y1="281.44" x2="65.50" y2="281.44" stroke="#222" stroke-width="1.4"/>
<line x1="62.50" y1="271.80" x2="65.50" y2="271.80" stroke="#222" stroke-width="1.3"/>
<text transform="translate(55.30,286.64) scale(1,1.1)" x="0" y="0" font-size="15.5" text-anchor="end" fill="#000" >16.5</text>
<line x1="59.50" y1="262.16" x2="65.50" y2="262.16" stroke="#222" stroke-width="1.4"/>
<line x1="62.50" y1="252.52" x2="65.50" y2="252.52" stroke="#222" stroke-width="1.3"/>
<text transform="translate(55.30,267.36) scale(1,1.1)" x="0" y="0" font-size="15.5" text-anchor="end" fill="#000" >17.0</text>
<line x1="59.50" y1="242.88" x2="65.50" y2="242.88" stroke="#222" stroke-width="1.4"/>
<line x1="62.50" y1="233.23" x2="65.50" y2="233.23" stroke="#222" stroke-width="1.3"/>
<text transform="translate(55.30,248.07) scale(1,1.1)" x="0" y="0" font-size="15.5" text-anchor="end" fill="#000" >17.5</text>
<line x1="59.50" y1="223.59" x2="65.50" y2="223.59" stroke="#222" stroke-width="1.4"/>
<text transform="translate(55.30,228.79) scale(1,1.1)" x="0" y="0" font-size="15.5" text-anchor="end" fill="#000" >18.0</text>
<line x1="65.50" y1="349.30" x2="65.50" y2="355.30" stroke="#222" stroke-width="1.4"/>
<line x1="85.54" y1="349.30" x2="85.54" y2="352.30" stroke="#222" stroke-width="1.3"/>
<text transform="translate(65.50,372.70) scale(1,1.1)" x="0" y="0" font-size="15.5" text-anchor="middle" fill="#000" >0</text>
<line x1="105.58" y1="349.30" x2="105.58" y2="355.30" stroke="#222" stroke-width="1.4"/>
<line x1="125.62" y1="349.30" x2="125.62" y2="352.30" stroke="#222" stroke-width="1.3"/>
<text transform="translate(105.58,372.70) scale(1,1.1)" x="0" y="0" font-size="15.5" text-anchor="middle" fill="#000" >50</text>
<line x1="145.66" y1="349.30" x2="145.66" y2="355.30" stroke="#222" stroke-width="1.4"/>
<line x1="165.70" y1="349.30" x2="165.70" y2="352.30" stroke="#222" stroke-width="1.3"/>
<text transform="translate(145.66,372.70) scale(1,1.1)" x="0" y="0" font-size="15.5" text-anchor="middle" fill="#000" >100</text>
<line x1="185.74" y1="349.30" x2="185.74" y2="355.30" stroke="#222" stroke-width="1.4"/>
<line x1="205.78" y1="349.30" x2="205.78" y2="352.30" stroke="#222" stroke-width="1.3"/>
<text transform="translate(185.74,372.70) scale(1,1.1)" x="0" y="0" font-size="15.5" text-anchor="middle" fill="#000" >150</text>
<line x1="225.82" y1="349.30" x2="225.82" y2="355.30" stroke="#222" stroke-width="1.4"/>
<line x1="245.86" y1="349.30" x2="245.86" y2="352.30" stroke="#222" stroke-width="1.3"/>
<text transform="translate(225.82,372.70) scale(1,1.1)" x="0" y="0" font-size="15.5" text-anchor="middle" fill="#000" >200</text>
<line x1="265.90" y1="349.30" x2="265.90" y2="355.30" stroke="#222" stroke-width="1.4"/>
<line x1="285.94" y1="349.30" x2="285.94" y2="352.30" stroke="#222" stroke-width="1.3"/>
<text transform="translate(265.90,372.70) scale(1,1.1)" x="0" y="0" font-size="15.5" text-anchor="middle" fill="#000" >250</text>
<rect x="78.13" y="335.90" width="6.80" height="6.80" fill="#000" stroke="none" stroke-width="1"/>
<rect x="94.16" y="286.92" width="6.80" height="6.80" fill="#000" stroke="none" stroke-width="1"/>
<rect x="110.20" y="264.16" width="6.80" height="6.80" fill="#000" stroke="none" stroke-width="1"/>
<rect x="126.23" y="251.82" width="6.80" height="6.80" fill="#000" stroke="none" stroke-width="1"/>
<rect x="158.29" y="238.32" width="6.80" height="6.80" fill="#000" stroke="none" stroke-width="1"/>
<rect x="190.36" y="229.83" width="6.80" height="6.80" fill="#000" stroke="none" stroke-width="1"/>
<rect x="206.39" y="227.90" width="6.80" height="6.80" fill="#000" stroke="none" stroke-width="1"/>
<rect x="254.48" y="226.36" width="6.80" height="6.80" fill="#000" stroke="none" stroke-width="1"/>
<polyline points="85.78,337.52 85.79,337.40 85.79,337.40 85.79,337.39 85.79,337.39 85.79,337.39 85.79,337.38 85.79,337.38 85.79,337.37 85.79,337.37 85.79,337.36 85.79,337.36 85.79,337.35 85.79,337.35 85.79,337.34 85.79,337.33 85.80,337.33 85.80,337.32 85.80,337.31 85.80,337.31 85.80,337.30 85.80,337.29 85.80,337.28 85.80,337.28 85.80,337.27 85.80,337.26 85.80,337.25 85.80,337.24 85.80,337.23 85.80,337.22 85.80,337.21 85.80,337.20 85.80,337.19 85.81,337.18 85.81,337.17 85.81,337.16 85.81,337.15 85.81,337.13 85.81,337.12 85.81,337.11 85.81,337.09 85.81,337.08 85.81,337.06 85.81,337.05 85.82,337.03 85.82,337.01 85.82,337.00 85.82,336.98 85.82,336.96 85.82,336.94 85.82,336.92 85.82,336.90 85.83,336.88 85.83,336.86 85.83,336.84 85.83,336.81 85.83,336.79 85.83,336.77 85.84,336.74 85.84,336.71 85.84,336.69 85.84,336.66 85.84,336.63 85.85,336.60 85.85,336.57 85.85,336.54 85.85,336.50 85.85,336.47 85.86,336.43 85.86,336.40 85.86,336.36 85.87,336.32 85.87,336.28 85.87,336.24 85.87,336.19 85.88,336.15 85.88,336.10 85.88,336.05 85.89,336.00 85.89,335.95 85.89,335.90 85.90,335.84 85.90,335.79 85.91,335.73 85.91,335.67 85.91,335.61 85.92,335.54 85.92,335.48 85.93,335.41 85.93,335.34 85.94,335.26 85.94,335.19 85.95,335.11 85.96,335.03 85.96,334.94 85.97,334.86 85.97,334.77 85.98,334.67 85.99,334.58 85.99,334.48 86.00,334.38 86.01,334.27 86.02,334.16 86.02,334.05 86.03,333.94 86.04,333.82 86.05,333.69 86.06,333.57 86.07,333.43 86.08,333.30 86.09,333.16 86.10,333.01 86.11,332.86 86.12,332.71 86.13,332.55 86.14,332.38 86.16,332.21 86.17,332.03 86.18,331.85 86.20,331.67 86.21,331.47 86.22,331.27 86.24,331.07 86.26,330.85 86.27,330.63 86.29,330.41 86.31,330.17 86.32,329.93 86.34,329.68 86.36,329.43 86.38,329.16 86.40,328.89 86.42,328.61 86.44,328.32 86.47,328.02 86.49,327.71 86.51,327.39 86.54,327.07 86.56,326.73 86.59,326.38 86.62,326.02 86.65,325.65 86.68,325.27 86.71,324.88 86.74,324.48 86.77,324.06 86.80,323.63 86.84,323.19 86.87,322.74 86.91,322.28 86.95,321.80 86.99,321.30 87.03,320.79 87.07,320.27 87.12,319.73 87.16,319.18 87.21,318.62 87.26,318.03 87.31,317.43 87.36,316.82 87.41,316.19 87.47,315.54 87.53,314.87 87.59,314.19 87.65,313.49 87.71,312.77 87.78,312.03 87.84,311.28 87.91,310.50 87.99,309.71 88.06,308.90 88.14,308.07 88.22,307.22 88.30,306.35 88.39,305.46 88.48,304.55 88.57,303.62 88.66,302.67 88.76,301.70 88.86,300.71 88.97,299.70 89.08,298.67 89.19,297.62 89.30,296.55 89.42,295.46 89.55,294.35 89.68,293.23 89.81,292.08 89.94,290.92 90.09,289.73 90.23,288.53 90.38,287.32 90.54,286.08 90.70,284.84 90.87,283.57 91.04,282.30 91.22,281.00 91.41,279.70 91.60,278.38 91.80,277.06 92.00,275.72 92.21,274.38 92.43,273.03 92.66,271.67 92.89,270.31 93.13,268.94 93.38,267.58 93.64,266.21 93.91,264.84 94.18,263.48 94.47,262.12 94.76,260.77 95.07,259.42 95.39,258.08 95.71,256.76 96.05,255.45 96.40,254.15 96.76,252.87 97.13,251.61 97.52,250.37 97.92,249.15 98.33,247.95 98.76,246.78 99.20,245.64 99.65,244.52 100.13,243.43 100.61,242.38 101.12,241.36 101.64,240.37 102.18,239.41 102.74,238.50 103.31,237.61 103.91,236.77 104.53,235.96 105.16,235.19 105.82,234.46 106.50,233.77 107.21,233.12 107.94,232.50 108.69,231.92 109.47,231.38 110.27,230.88 111.11,230.41 111.97,229.98 112.86,229.58 113.78,229.21 114.73,228.87 115.72,228.57 116.73,228.29 117.79,228.04 118.87,227.81 120.00,227.61 121.16,227.43 122.37,227.27 123.61,227.13 124.90,227.00 126.23,226.90 127.60,226.80 129.02,226.72 130.49,226.65 132.01,226.60 133.59,226.55 135.21,226.50 136.89,226.47 138.63,226.44 140.43,226.42 142.28,226.40 144.21,226.38 146.19,226.37 148.25,226.36 150.37,226.35 152.57,226.35 154.84,226.34 157.18,226.34 159.61,226.34 162.12,226.33 164.72,226.33 167.40,226.33 170.18,226.33 173.05,226.33 176.01,226.33 179.08,226.33 182.25,226.33 185.53,226.33 188.93,226.33 192.43,226.33 196.06,226.33 199.81,226.33 203.69,226.33 207.70,226.33 211.84,226.33 216.13,226.33 220.56,226.33 225.14,226.33 229.88,226.33 234.78,226.33 239.85,226.33 245.08,226.33 250.50,226.33 256.10,226.33 261.89,226.33" fill="none" stroke="#000" stroke-width="2.5" stroke-linejoin="round" stroke-linecap="butt" />
<polyline points="85.53,338.13 85.54,337.93 85.54,337.92 85.54,337.91 85.54,337.91 85.54,337.90 85.54,337.89 85.54,337.88 85.54,337.87 85.54,337.87 85.54,337.86 85.55,337.85 85.55,337.84 85.55,337.83 85.55,337.82 85.55,337.81 85.55,337.80 85.55,337.79 85.55,337.77 85.55,337.76 85.55,337.75 85.55,337.74 85.55,337.72 85.55,337.71 85.55,337.70 85.55,337.68 85.55,337.67 85.55,337.65 85.55,337.64 85.55,337.62 85.56,337.60 85.56,337.58 85.56,337.57 85.56,337.55 85.56,337.53 85.56,337.51 85.56,337.49 85.56,337.46 85.56,337.44 85.56,337.42 85.56,337.39 85.56,337.37 85.57,337.34 85.57,337.32 85.57,337.29 85.57,337.26 85.57,337.23 85.57,337.20 85.57,337.17 85.57,337.14 85.58,337.11 85.58,337.07 85.58,337.04 85.58,337.00 85.58,336.96 85.58,336.92 85.58,336.88 85.59,336.84 85.59,336.80 85.59,336.75 85.59,336.70 85.59,336.66 85.60,336.61 85.60,336.56 85.60,336.50 85.60,336.45 85.60,336.39 85.61,336.34 85.61,336.28 85.61,336.21 85.61,336.15 85.62,336.08 85.62,336.02 85.62,335.94 85.63,335.87 85.63,335.80 85.63,335.72 85.64,335.64 85.64,335.56 85.64,335.47 85.65,335.38 85.65,335.29 85.65,335.20 85.66,335.10 85.66,335.00 85.67,334.90 85.67,334.79 85.68,334.68 85.68,334.57 85.69,334.45 85.69,334.33 85.70,334.20 85.70,334.08 85.71,333.94 85.71,333.81 85.72,333.66 85.73,333.52 85.73,333.37 85.74,333.21 85.75,333.05 85.75,332.89 85.76,332.72 85.77,332.54 85.78,332.36 85.79,332.18 85.79,331.99 85.80,331.79 85.81,331.59 85.82,331.38 85.83,331.16 85.84,330.94 85.85,330.71 85.86,330.47 85.87,330.23 85.88,329.98 85.90,329.72 85.91,329.46 85.92,329.19 85.94,328.91 85.95,328.62 85.96,328.32 85.98,328.02 85.99,327.71 86.01,327.38 86.02,327.05 86.04,326.71 86.06,326.37 86.08,326.01 86.09,325.64 86.11,325.26 86.13,324.88 86.15,324.48 86.17,324.07 86.20,323.65 86.22,323.22 86.24,322.78 86.27,322.33 86.29,321.87 86.32,321.40 86.34,320.91 86.37,320.42 86.40,319.91 86.43,319.39 86.46,318.86 86.49,318.31 86.52,317.76 86.56,317.19 86.59,316.61 86.63,316.02 86.66,315.41 86.70,314.80 86.74,314.17 86.78,313.53 86.83,312.87 86.87,312.20 86.92,311.52 86.96,310.83 87.01,310.13 87.06,309.41 87.11,308.68 87.17,307.94 87.22,307.19 87.28,306.43 87.34,305.65 87.40,304.86 87.46,304.06 87.53,303.25 87.60,302.43 87.67,301.60 87.74,300.76 87.82,299.90 87.89,299.04 87.97,298.17 88.06,297.29 88.14,296.40 88.23,295.50 88.32,294.60 88.42,293.68 88.52,292.76 88.62,291.84 88.72,290.90 88.83,289.96 88.94,289.02 89.06,288.07 89.18,287.12 89.30,286.16 89.43,285.20 89.56,284.23 89.70,283.27 89.84,282.30 89.99,281.33 90.14,280.36 90.30,279.39 90.46,278.42 90.63,277.45 90.80,276.49 90.98,275.52 91.16,274.56 91.36,273.60 91.55,272.64 91.76,271.69 91.97,270.74 92.19,269.80 92.41,268.87 92.65,267.94 92.89,267.01 93.14,266.09 93.40,265.19 93.67,264.28 93.94,263.39 94.23,262.50 94.53,261.63 94.83,260.76 95.15,259.90 95.47,259.06 95.81,258.22 96.16,257.39 96.52,256.58 96.90,255.77 97.28,254.98 97.68,254.20 98.10,253.43 98.52,252.67 98.96,251.92 99.42,251.19 99.89,250.46 100.38,249.75 100.89,249.06 101.41,248.37 101.95,247.70 102.51,247.04 103.08,246.39 103.68,245.75 104.30,245.13 104.94,244.52 105.60,243.92 106.28,243.33 106.98,242.76 107.71,242.20 108.47,241.65 109.25,241.11 110.05,240.58 110.89,240.07 111.75,239.57 112.64,239.08 113.56,238.60 114.52,238.13 115.50,237.68 116.52,237.23 117.58,236.80 118.67,236.37 119.79,235.96 120.96,235.56 122.16,235.16 123.41,234.78 124.69,234.41 126.03,234.05 127.40,233.69 128.83,233.35 130.30,233.01 131.82,232.69 133.40,232.37 135.02,232.06 136.71,231.76 138.45,231.47 140.25,231.18 142.11,230.91 144.03,230.64 146.02,230.38 148.08,230.13 150.20,229.88 152.40,229.64 154.68,229.41 157.03,229.18 159.46,228.96 161.97,228.75 164.57,228.55 167.26,228.34 170.04,228.15 172.91,227.96 175.88,227.78 178.96,227.60 182.13,227.43 185.42,227.26 188.82,227.10 192.33,226.94 195.96,226.79 199.71,226.64 203.60,226.50 207.61,226.36 211.76,226.22 216.06,226.09 220.50,225.97 225.08,225.84 229.83,225.72 234.74,225.61 239.81,225.50 245.06,225.39 250.48,225.28 256.09,225.18 261.89,225.08" fill="none" stroke="#ff0000" stroke-width="2.5" stroke-linejoin="round" stroke-linecap="butt" />
<polyline points="86.11,339.55 86.12,339.43 86.12,339.43 86.12,339.42 86.12,339.42 86.12,339.41 86.12,339.41 86.12,339.40 86.12,339.40 86.12,339.39 86.12,339.39 86.12,339.38 86.12,339.37 86.12,339.37 86.12,339.36 86.13,339.35 86.13,339.35 86.13,339.34 86.13,339.33 86.13,339.33 86.13,339.32 86.13,339.31 86.13,339.30 86.13,339.29 86.13,339.29 86.13,339.28 86.13,339.27 86.13,339.26 86.13,339.25 86.13,339.24 86.13,339.23 86.13,339.21 86.13,339.20 86.14,339.19 86.14,339.18 86.14,339.17 86.14,339.15 86.14,339.14 86.14,339.13 86.14,339.11 86.14,339.10 86.14,339.08 86.14,339.07 86.15,339.05 86.15,339.03 86.15,339.01 86.15,339.00 86.15,338.98 86.15,338.96 86.15,338.94 86.15,338.92 86.16,338.90 86.16,338.87 86.16,338.85 86.16,338.83 86.16,338.80 86.16,338.78 86.16,338.75 86.17,338.73 86.17,338.70 86.17,338.67 86.17,338.64 86.17,338.61 86.18,338.58 86.18,338.55 86.18,338.51 86.18,338.48 86.19,338.44 86.19,338.40 86.19,338.37 86.19,338.33 86.20,338.29 86.20,338.24 86.20,338.20 86.20,338.16 86.21,338.11 86.21,338.06 86.21,338.01 86.22,337.96 86.22,337.91 86.22,337.86 86.23,337.80 86.23,337.75 86.24,337.69 86.24,337.63 86.25,337.56 86.25,337.50 86.25,337.43 86.26,337.36 86.26,337.29 86.27,337.22 86.27,337.14 86.28,337.07 86.29,336.99 86.29,336.90 86.30,336.82 86.30,336.73 86.31,336.64 86.32,336.55 86.32,336.45 86.33,336.35 86.34,336.25 86.35,336.15 86.35,336.04 86.36,335.93 86.37,335.82 86.38,335.70 86.39,335.58 86.40,335.46 86.41,335.33 86.42,335.20 86.43,335.06 86.44,334.93 86.45,334.78 86.46,334.64 86.47,334.49 86.49,334.34 86.50,334.18 86.51,334.02 86.53,333.85 86.54,333.68 86.56,333.50 86.57,333.32 86.59,333.14 86.60,332.95 86.62,332.76 86.64,332.56 86.65,332.35 86.67,332.14 86.69,331.93 86.71,331.71 86.73,331.49 86.75,331.26 86.77,331.02 86.80,330.78 86.82,330.54 86.84,330.29 86.87,330.03 86.89,329.77 86.92,329.50 86.95,329.22 86.98,328.94 87.01,328.66 87.04,328.36 87.07,328.07 87.10,327.76 87.13,327.45 87.17,327.14 87.20,326.81 87.24,326.48 87.28,326.15 87.32,325.81 87.36,325.46 87.40,325.11 87.45,324.75 87.49,324.38 87.54,324.01 87.59,323.63 87.64,323.24 87.69,322.85 87.74,322.45 87.80,322.05 87.86,321.64 87.92,321.22 87.98,320.80 88.04,320.37 88.11,319.93 88.17,319.49 88.24,319.04 88.32,318.59 88.39,318.13 88.47,317.66 88.55,317.19 88.63,316.72 88.72,316.23 88.80,315.74 88.90,315.25 88.99,314.75 89.09,314.24 89.19,313.73 89.29,313.21 89.40,312.69 89.51,312.16 89.63,311.63 89.75,311.09 89.87,310.54 90.00,309.99 90.13,309.44 90.27,308.88 90.41,308.32 90.56,307.75 90.71,307.18 90.87,306.60 91.03,306.02 91.19,305.43 91.37,304.84 91.55,304.24 91.73,303.64 91.92,303.04 92.12,302.43 92.32,301.82 92.53,301.20 92.75,300.58 92.98,299.96 93.21,299.33 93.45,298.70 93.70,298.07 93.96,297.43 94.23,296.79 94.50,296.15 94.79,295.50 95.08,294.85 95.39,294.20 95.70,293.54 96.03,292.89 96.37,292.22 96.72,291.56 97.08,290.89 97.45,290.22 97.83,289.55 98.23,288.88 98.64,288.20 99.07,287.52 99.51,286.84 99.97,286.16 100.44,285.47 100.92,284.78 101.43,284.09 101.95,283.40 102.49,282.71 103.04,282.01 103.62,281.31 104.21,280.61 104.83,279.91 105.47,279.21 106.12,278.50 106.80,277.80 107.51,277.09 108.23,276.38 108.99,275.67 109.76,274.96 110.57,274.24 111.40,273.53 112.26,272.81 113.15,272.10 114.07,271.38 115.02,270.66 116.00,269.94 117.02,269.22 118.07,268.49 119.15,267.77 120.28,267.04 121.44,266.32 122.64,265.59 123.88,264.86 125.16,264.13 126.49,263.40 127.86,262.67 129.28,261.94 130.75,261.21 132.27,260.48 133.84,259.74 135.46,259.01 137.14,258.27 138.87,257.54 140.67,256.80 142.52,256.06 144.44,255.33 146.42,254.59 148.47,253.85 150.59,253.11 152.78,252.37 155.05,251.63 157.39,250.89 159.82,250.15 162.32,249.41 164.91,248.66 167.59,247.92 170.36,247.18 173.23,246.43 176.19,245.69 179.25,244.95 182.41,244.20 185.69,243.46 189.07,242.71 192.57,241.96 196.19,241.22 199.94,240.47 203.80,239.72 207.81,238.98 211.94,238.23 216.22,237.48 220.64,236.73 225.22,235.99 229.95,235.24 234.83,234.49 239.89,233.74 245.12,232.99 250.52,232.24 256.11,231.49 261.89,230.74" fill="none" stroke="#00ff00" stroke-width="2.5" stroke-linejoin="round" stroke-linecap="butt" />
<text transform="translate(78.60,241.00) scale(1,1.05)" x="0" y="0" font-size="17" text-anchor="start" fill="#000" >c)</text>
<rect x="181.50" y="250.40" width="79.70" height="23.80" fill="#fff" stroke="#b8b8b8" stroke-width="1"/>
<line x1="183.20" y1="262.80" x2="221.10" y2="262.80" stroke="#000" stroke-width="2.6"/>
<text x="225.80" y="268.50" font-size="16.5" text-anchor="start" fill="#000" >SFO</text>
<rect x="162.90" y="278.90" width="81.00" height="23.50" fill="#fff" stroke="#b8b8b8" stroke-width="1"/>
<line x1="164.70" y1="290.70" x2="203.00" y2="290.70" stroke="#ff0000" stroke-width="2.6"/>
<text x="207.00" y="296.50" font-size="16.5" text-anchor="start" fill="#000" >SSO</text>
<rect x="137.40" y="306.30" width="99.50" height="23.30" fill="#fff" stroke="#b8b8b8" stroke-width="1"/>
<line x1="139.20" y1="318.00" x2="177.50" y2="318.00" stroke="#00ff00" stroke-width="2.6"/>
<text x="181.80" y="324.00" font-size="16.5" text-anchor="start" fill="#000" >Elovich</text>
<text x="17.10" y="281.75" font-size="17" text-anchor="middle" fill="#000" transform="rotate(-90 17.1 281.75)">qt (mg/g)</text>
<text transform="translate(136.60,401.00) scale(1,1.05)" x="0" y="0" font-size="16.6" text-anchor="start" fill="#000" >Time (min)</text>
</svg></body></html>
